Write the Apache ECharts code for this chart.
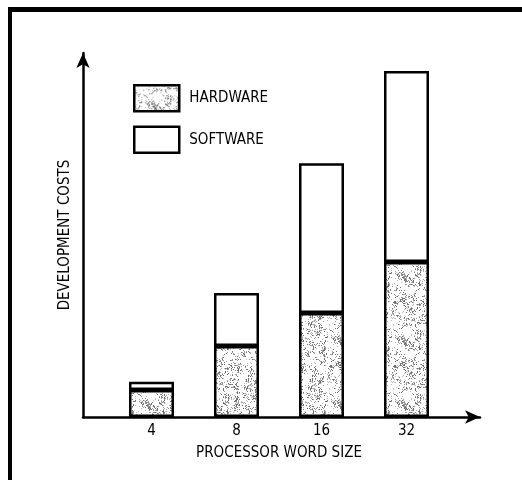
<!DOCTYPE html>
<html>
<head>
<meta charset="utf-8">
<script src="https://cdn.jsdelivr.net/npm/echarts@6/dist/echarts.min.js"></script>
<style>
  html, body { margin: 0; padding: 0; background: #fff; }
  #chart { position: absolute; left: 0; top: 0; width: 522px; height: 480px; }
  #frame {
    position: absolute; left: 8px; top: 7px; right: 0; bottom: 0;
    border-left: 4px solid #000; border-top: 5px solid #000;
    pointer-events: none;
  }
</style>
</head>
<body>
<div id="chart"></div>
<div id="frame"></div>
<script>
// processor word size (bits)
const categories = ['4', '8', '16', '32']
// development costs, relative units (axis max = 100)
const hardware = [7.3, 19.2, 28.1, 41.9]
const software = [2.2, 14.3, 40.5, 51.6]

const FONT = '"Liberation Sans Narrow", "DejaVu Sans Condensed", "Liberation Sans", sans-serif'

// grey stipple texture for the hardware part (fixed seed, purely decorative)
function stipple() {
  const n = 64
  const c = document.createElement('canvas')
  c.width = n
  c.height = n
  const ctx = c.getContext('2d')
  ctx.fillStyle = '#fff'
  ctx.fillRect(0, 0, n, n)
  let s = 987654
  const rnd = () => {
    s = (s * 1103515245 + 12345) % 2147483648
    return s / 2147483648
  }
  // small clumps of grey specks
  for (let i = 0; i < 150; i++) {
    const cx = rnd() * n
    const cy = rnd() * n
    const k = 3 + Math.floor(rnd() * 7)
    for (let j = 0; j < k; j++) {
      ctx.fillStyle = rnd() < 0.55 ? '#6e6e6e' : '#9a9a9a'
      const x = Math.floor(cx + (rnd() - 0.5) * 5 + n) % n
      const y = Math.floor(cy + (rnd() - 0.5) * 5 + n) % n
      ctx.fillRect(x, y, 1, 1)
    }
  }
  for (let i = 0; i < 200; i++) {
    ctx.fillStyle = '#b8b8b8'
    ctx.fillRect(Math.floor(rnd() * n), Math.floor(rnd() * n), 1, 1)
  }
  return c
}

const chart = echarts.init(document.getElementById('chart'))
chart.setOption({
  animation: false,
  textStyle: { fontFamily: FONT },
  legend: {
    data: ['HARDWARE', 'SOFTWARE'],
    orient: 'vertical',
    left: 128,
    top: 79,
    itemWidth: 45,
    itemHeight: 26,
    itemGap: 13,
    icon: 'rect',
    itemStyle: { borderColor: '#000', borderWidth: 2.5 },
    textStyle: { fontSize: 15, color: '#000', fontFamily: FONT, padding: [0, 0, 0, 5] }
  },
  grid: [
    { left: 109, right: 73, top: 47, bottom: 63 },
    { left: 83, right: 42, top: 53, bottom: 63 }
  ],
  xAxis: [
    {
      type: 'category',
      gridIndex: 0,
      data: categories,
      axisLine: { show: false },
      axisTick: { show: false },
      axisLabel: { fontSize: 15, color: '#000', margin: 7, fontFamily: FONT },
      name: 'PROCESSOR WORD SIZE',
      nameLocation: 'middle',
      nameGap: 29,
      nameTextStyle: { fontSize: 15, color: '#000', fontFamily: FONT }
    },
    {
      type: 'value',
      gridIndex: 1,
      min: 0,
      max: 1,
      axisLine: {
        show: true,
        symbol: ['none', 'arrow'],
        symbolSize: [10, 15],
        lineStyle: { color: '#000', width: 2.5 }
      },
      axisTick: { show: false },
      axisLabel: { show: false },
      splitLine: { show: false }
    }
  ],
  yAxis: [
    {
      type: 'value',
      gridIndex: 0,
      min: 0,
      max: 100,
      axisLine: { show: false },
      axisTick: { show: false },
      axisLabel: { show: false },
      splitLine: { show: false }
    },
    {
      type: 'value',
      gridIndex: 1,
      min: 0,
      max: 1,
      axisLine: {
        show: true,
        symbol: ['none', 'arrow'],
        symbolSize: [10, 15],
        lineStyle: { color: '#000', width: 2.5 }
      },
      axisTick: { show: false },
      axisLabel: { show: false },
      splitLine: { show: false },
      name: 'DEVELOPMENT COSTS',
      nameLocation: 'middle',
      nameGap: 10,
      nameTextStyle: { fontSize: 15, color: '#000', fontFamily: FONT }
    }
  ],
  series: [
    {
      name: 'HARDWARE',
      type: 'bar',
      stack: 'cost',
      barWidth: 45,
      data: hardware,
      itemStyle: {
        color: { image: stipple(), repeat: 'repeat' },
        borderColor: '#000',
        borderWidth: 2.5
      }
    },
    {
      name: 'SOFTWARE',
      type: 'bar',
      stack: 'cost',
      barWidth: 45,
      data: software,
      itemStyle: { color: '#fff', borderColor: '#000', borderWidth: 2.5 }
    }
  ]
})
</script>
</body>
</html>
